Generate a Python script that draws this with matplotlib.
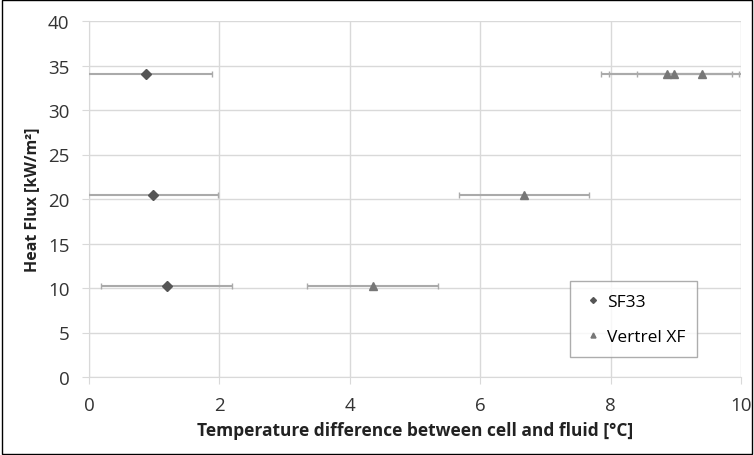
import matplotlib.pyplot as plt
from matplotlib.patches import Rectangle

plt.rcParams['font.family'] = ['Open Sans', 'DejaVu Sans']

# SF33 data
sf33_x = [0.88, 0.98, 1.19]
sf33_y = [34.1, 20.5, 10.2]
sf33_err = [1.0, 1.0, 1.0]

# Vertrel XF data
vxf_x = [4.35, 6.67, 8.86, 8.97, 9.40]
vxf_y = [10.2, 20.4, 34.1, 34.1, 34.1]
vxf_err = [1.0, 1.0, 1.0, 1.0, 1.0]

fig = plt.figure(figsize=(7.54, 4.56), dpi=100)
ax = fig.add_axes([89 / 754, 1 - 378 / 456, (741 - 89) / 754, (378 - 22) / 456])
fig.patches.append(Rectangle((0.003, 0.003), 0.994, 0.994, transform=fig.transFigure,
                             fill=False, edgecolor='black', linewidth=1))

ax.errorbar(sf33_x, sf33_y, xerr=sf33_err, fmt='D', color='#555555', markersize=5,
            ecolor='#aaaaaa', elinewidth=1.5, capsize=2, capthick=1, label='SF33', zorder=3)
ax.errorbar(vxf_x, vxf_y, xerr=vxf_err, fmt='^', color='#777777', markersize=6,
            ecolor='#aaaaaa', elinewidth=1.5, capsize=2, capthick=1, label='Vertrel XF', zorder=3)

ax.set_xlim(0, 10)
ax.set_ylim(0, 40)
ax.set_xticks(range(0, 11, 2))
ax.set_yticks(range(0, 41, 5))
ax.grid(True, color='#d9d9d9', linewidth=1)
ax.set_axisbelow(True)
for s in ['top', 'right']:
    ax.spines[s].set_visible(False)
for s in ['left', 'bottom']:
    ax.spines[s].set_color('#d9d9d9')
ax.tick_params(axis='both', length=5, color='#d9d9d9', labelsize=13.5, labelcolor='#333333')
ax.tick_params(axis='x', pad=9)
ax.tick_params(axis='y', pad=9)

ax.set_xlabel('Temperature difference between cell and fluid [°C]', fontsize=12.5,
              fontweight='bold', color='#222222', labelpad=5)
ax.set_ylabel('Heat Flux [kW/m²]', fontsize=11.5, fontweight='bold', color='#222222',
              labelpad=6)

handles, labels = ax.get_legend_handles_labels()
handles = [h[0] for h in handles]
leg = ax.legend(handles, labels, loc='lower left', bbox_to_anchor=(0.738, 0.056),
                borderaxespad=0, fontsize=12.5, frameon=True, fancybox=False,
                edgecolor='#999999', markerscale=0.6, handletextpad=0.2,
                labelspacing=1.1, borderpad=0.7, handlelength=1.2)
leg.get_frame().set_linewidth(1)

fig.savefig('out.png', dpi=100)
